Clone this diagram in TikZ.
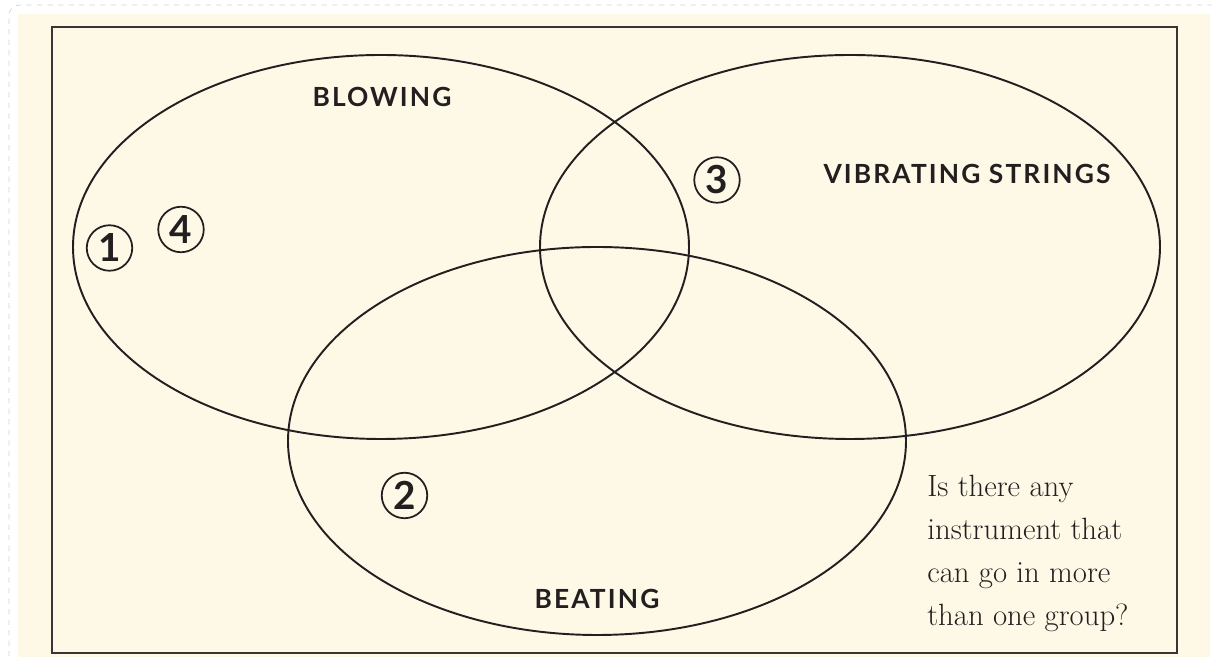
\documentclass[tikz,border=0pt]{standalone}
\usepackage{fontspec}
\setsansfont{Lato}
\newfontfamily\groupfont{Lato}[LetterSpace=8]
\usetikzlibrary{positioning}

\definecolor{paper}{RGB}{254,249,231}
\definecolor{ink}{RGB}{35,31,32}

\tikzset{
    group/.style={draw=ink, line width=1.1pt},
    setlabel/.style={anchor=base, inner sep=0pt, text=ink,
        font=\groupfont\bfseries\fontsize{15}{18}\selectfont},
    numbered/.style={circle, draw=ink, line width=1pt, minimum size=0.91cm,
        inner sep=0pt, text=ink, font=\sffamily\bfseries\fontsize{22}{22}\selectfont},
}

\begin{document}
\begin{tikzpicture}

        \useasboundingbox (0,0) rectangle (24.24,13.14);

        % paper and frame
        \fill[paper] (0.36,0) rectangle (24.2,12.86);
        \draw[gray!35, dashed, rounded corners=6pt] (0.18,-0.2) -- (0.18,13.04) -- (24.4,13.04);
        \draw[ink!90, line width=1.6pt] (1.04,0.08) rectangle (23.54,12.6);

        % the three groups
        \draw[group] (7.62,8.2) ellipse (6.16 and 3.84);
        \draw[group] (17.0,8.2) ellipse (6.2 and 3.84);
        \draw[group] (11.94,4.32) ellipse (6.18 and 3.88);

        \node[setlabel] (blowing) at (7.64,11.0) {BLOWING};
        \node[setlabel] (strings) at (19.34,9.46) {VIBRATING STRINGS};
        \node[setlabel] (beating) at (11.94,0.96) {BEATING};

        % instruments
        \node[numbered] (one) at (2.19,8.18) {1};
        \node[numbered] (four) at (3.62,8.55) {4};
        \node[numbered] (three) at (14.34,9.54) {3};
        \node[numbered] (two) at (8.09,3.23) {2};

        \node[anchor=north west, align=left, inner sep=0pt, text=ink,
            font=\fontsize{17.5}{24.5}\selectfont] (question) at (18.54,3.64)
            {Is there any\\ instrument that\\ can go in more\\ than one group?};

\end{tikzpicture}
\end{document}
